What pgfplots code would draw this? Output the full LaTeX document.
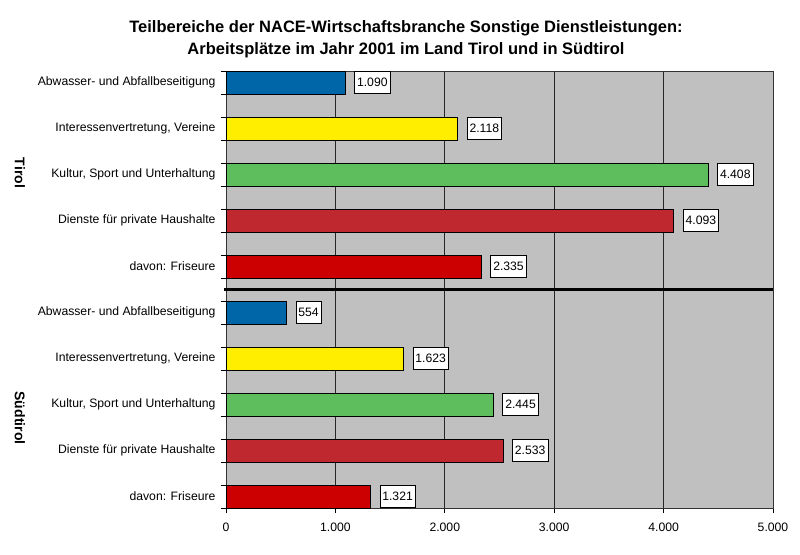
\documentclass[border=0pt]{standalone}
\usepackage{pgfplots}
\pgfplotsset{compat=1.18}
\usepackage{fontspec}
\setmainfont{Liberation Sans}
\definecolor{cblue}{RGB}{0,102,167}
\definecolor{cyellow}{RGB}{255,238,0}
\definecolor{cgreen}{RGB}{94,190,94}
\definecolor{credA}{RGB}{192,40,48}
\definecolor{credB}{RGB}{204,0,0}
\definecolor{silverbg}{RGB}{192,192,192}
\begin{document}
\begin{tikzpicture}
\path[use as bounding box] (0pt,0pt) rectangle (800pt,554pt);
\node[font=\bfseries\fontsize{16.5}{18}\selectfont, anchor=base] at (406pt,521pt) {Teilbereiche der NACE-Wirtschaftsbranche Sonstige Dienstleistungen:};
\node[font=\bfseries\fontsize{16.5}{18}\selectfont, anchor=base] at (406pt,499pt) {Arbeitsplätze im Jahr 2001 im Land Tirol und in Südtirol};
\node[font=\bfseries\fontsize{14}{16}\selectfont, rotate=-90] at (20pt,381pt) {Tirol};
\node[font=\bfseries\fontsize{14}{16}\selectfont, rotate=-90] at (20pt,136pt) {Südtirol};
\begin{axis}[
  at={(226pt,46pt)}, anchor=south west,
  scale only axis, width=547pt, height=437pt,
  xbar, bar width=0.5, bar shift=0pt,
  xmin=0, xmax=5000, ymin=-0.25, ymax=9.25, y dir=reverse,
  clip=false,
  axis background/.style={fill=silverbg},
  axis line style={black!80, line width=0.7pt},
  xtick={0,1000,2000,3000,4000,5000},
  ytick={-0.25,0.25,0.75,1.25,1.75,2.25,2.75,3.25,3.75,4.25,4.75,5.25,5.75,6.25,6.75,7.25,7.75,8.25,8.75,9.25},
  yticklabels={},
  extra y ticks={0,1,2,3,4,5,6,7,8,9},
  extra y tick labels={Abwasser- und Abfallbeseitigung, {Interessenvertretung, Vereine}, {Kultur, Sport und Unterhaltung}, Dienste für private Haushalte, davon: Friseure,
               Abwasser- und Abfallbeseitigung, {Interessenvertretung, Vereine}, {Kultur, Sport und Unterhaltung}, Dienste für private Haushalte, davon: Friseure},
  extra y tick style={major tick length=0pt, yticklabel style={xshift=-7pt}},
  tick align=outside,
  tick pos=left,
  major tick length=5pt,
  every tick/.style={black, line width=0.8pt},
  xmajorgrids=true,
  major x grid style={black!85, line width=0.8pt},
  ticklabel style={font=\fontsize{12.2}{14}\selectfont},
  xticklabel style={yshift=-6pt},
  /pgf/number format/1000 sep={.},
  /pgf/number format/assume math mode=true,
  point meta=x,
  nodes near coords,
  nodes near coords style={anchor=west, xshift=9pt, fill=white, draw=black, line width=0.6pt,
     inner xsep=2.5pt, inner ysep=0pt, minimum height=22pt, font=\fontsize{12.2}{14}\selectfont,
     /pgf/number format/1000 sep={.}, /pgf/number format/assume math mode=true},
  every axis plot/.append style={draw=black, line width=0.6pt},
]
\addplot[fill=cblue] coordinates {(1090,0) (554,5)};
\addplot[fill=cyellow] coordinates {(2118,1) (1623,6)};
\addplot[fill=cgreen] coordinates {(4408,2) (2445,7)};
\addplot[fill=credA] coordinates {(4093,3) (2533,8)};
\addplot[fill=credB] coordinates {(2335,4) (1321,9)};
\draw[black, line width=2.2pt] ([xshift=-2pt]axis cs:0,4.5) -- (axis cs:5000,4.5);
\end{axis}
\end{tikzpicture}
\end{document}
